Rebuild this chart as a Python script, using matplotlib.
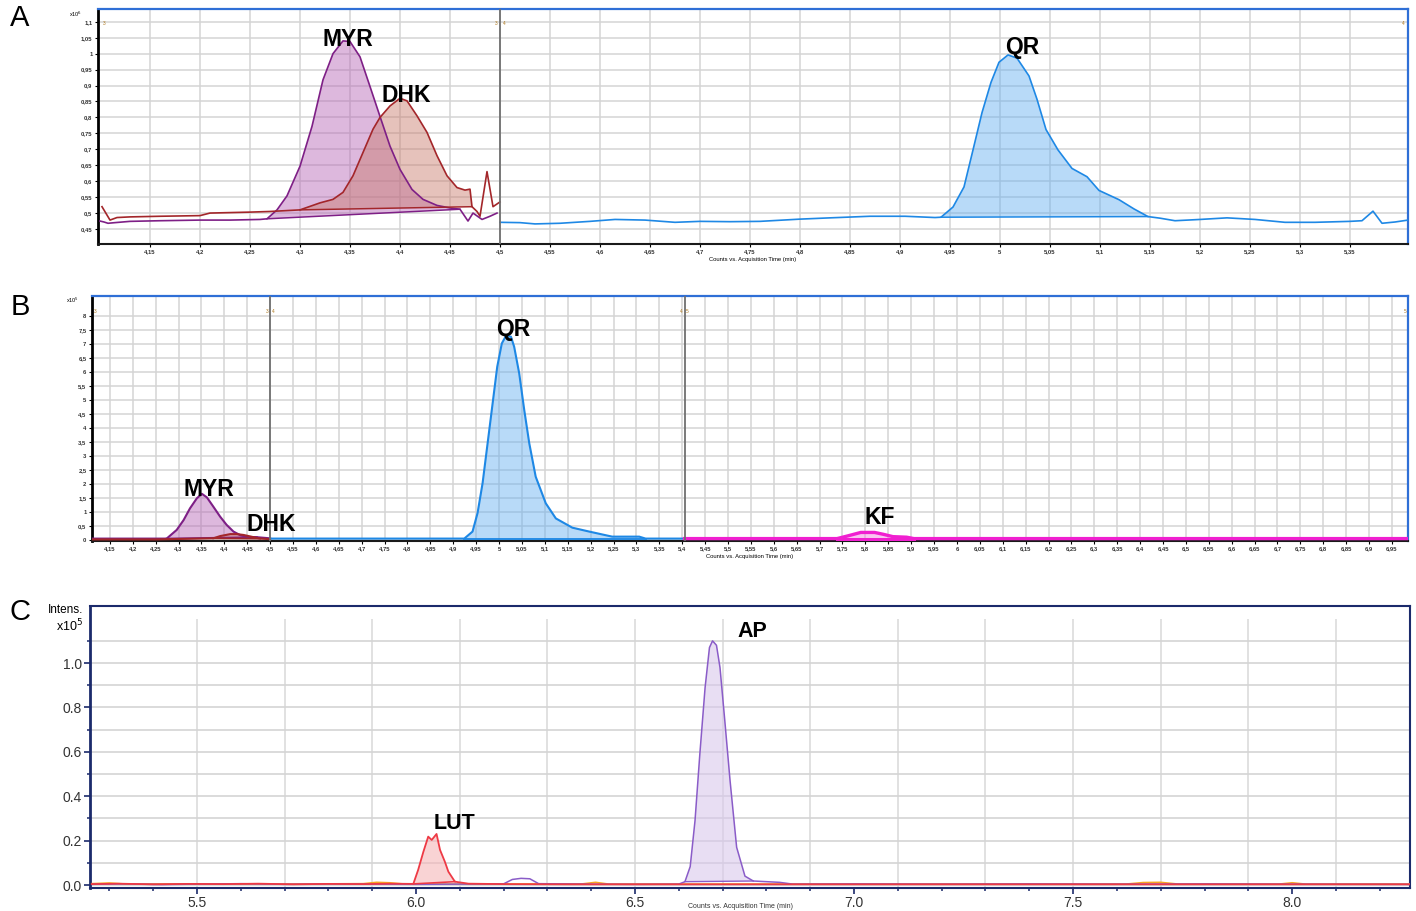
import numpy as np
import matplotlib
matplotlib.use('Agg')
import matplotlib.pyplot as plt
from matplotlib.ticker import FixedLocator, FuncFormatter

plt.rcParams['font.family'] = ['Liberation Sans', 'DejaVu Sans']

# ---------------- panel A (MRM, 4.1 - 5.4 min) ----------------
myr_a_t = [4.100, 4.104, 4.108, 4.115, 4.130, 4.160, 4.200, 4.230, 4.260, 4.267, 4.277, 4.287,
           4.300, 4.312, 4.323, 4.333, 4.343, 4.350, 4.360, 4.370, 4.380, 4.390, 4.400, 4.412,
           4.423, 4.437, 4.450, 4.460, 4.468, 4.473, 4.482, 4.490, 4.497]
myr_a_y = [0.475, 0.472, 0.468, 0.470, 0.474, 0.476, 0.478, 0.478, 0.480, 0.482, 0.510, 0.554,
           0.647, 0.772, 0.918, 1.000, 1.040, 1.038, 0.990, 0.897, 0.803, 0.710, 0.637, 0.574,
           0.543, 0.524, 0.516, 0.512, 0.475, 0.500, 0.480, 0.490, 0.500]
myr_a_peak = (4.267, 4.460)

dhk_a_t = [4.102, 4.110, 4.117, 4.130, 4.160, 4.200, 4.210, 4.250, 4.270, 4.300, 4.320, 4.333,
           4.343, 4.353, 4.363, 4.373, 4.380, 4.390, 4.400, 4.407, 4.417, 4.427, 4.437, 4.447,
           4.457, 4.465, 4.470, 4.472, 4.477, 4.480, 4.487, 4.493, 4.500]
dhk_a_y = [0.520, 0.478, 0.486, 0.488, 0.490, 0.492, 0.500, 0.503, 0.505, 0.510, 0.532, 0.543,
           0.565, 0.617, 0.690, 0.763, 0.800, 0.836, 0.860, 0.852, 0.805, 0.753, 0.680, 0.617,
           0.580, 0.572, 0.575, 0.520, 0.505, 0.490, 0.630, 0.520, 0.535]
dhk_a_peak = (4.300, 4.472)

qr_a_t = [4.500, 4.520, 4.535, 4.560, 4.590, 4.615, 4.645, 4.675, 4.700, 4.730, 4.760, 4.800,
          4.830, 4.870, 4.905, 4.935, 4.941, 4.953, 4.964, 4.973, 4.982, 4.991, 4.999, 5.008,
          5.017, 5.029, 5.037, 5.046, 5.058, 5.072, 5.087, 5.099, 5.119, 5.134, 5.148, 5.160,
          5.175, 5.200, 5.227, 5.255, 5.285, 5.315, 5.350, 5.362, 5.373, 5.382, 5.395, 5.408]
qr_a_y = [0.471, 0.470, 0.466, 0.468, 0.474, 0.480, 0.478, 0.471, 0.474, 0.473, 0.474, 0.481,
          0.485, 0.490, 0.490, 0.486, 0.487, 0.519, 0.582, 0.698, 0.815, 0.910, 0.973, 0.996,
          0.986, 0.930, 0.857, 0.762, 0.698, 0.640, 0.614, 0.571, 0.542, 0.513, 0.489, 0.484,
          0.476, 0.480, 0.485, 0.480, 0.471, 0.471, 0.474, 0.476, 0.506, 0.468, 0.472, 0.478]
qr_a_peak = (4.941, 5.148)

# ---------------- panel B (MRM, 4.1 - 7.0 min) ----------------
myr_b_t = [4.111, 4.200, 4.274, 4.296, 4.311, 4.325, 4.340, 4.351, 4.362, 4.376, 4.391, 4.405,
           4.420, 4.435, 4.449, 4.471, 4.500]
myr_b_y = [0.05, 0.05, 0.05, 0.36, 0.71, 1.13, 1.49, 1.65, 1.52, 1.19, 0.83, 0.54,
           0.30, 0.17, 0.11, 0.10, 0.06]
myr_b_peak = (4.274, 4.471)

dhk_b_t = [4.111, 4.250, 4.376, 4.391, 4.413, 4.427, 4.442, 4.464, 4.478, 4.500]
dhk_b_y = [0.02, 0.02, 0.06, 0.14, 0.21, 0.21, 0.18, 0.10, 0.05, 0.03]
dhk_b_peak = (4.376, 4.478)

qr_b_t = [4.500, 4.700, 4.924, 4.942, 4.953, 4.964, 4.974, 4.985, 4.996, 5.006, 5.015, 5.026,
          5.033, 5.044, 5.055, 5.066, 5.080, 5.102, 5.124, 5.160, 5.197, 5.247, 5.306, 5.320, 5.405]
qr_b_y = [0.05, 0.05, 0.05, 0.30, 0.96, 2.03, 3.33, 4.76, 6.19, 7.02, 7.29, 7.26,
          6.90, 5.95, 4.64, 3.45, 2.26, 1.31, 0.77, 0.44, 0.30, 0.12, 0.12, 0.05, 0.05]
qr_b_peak = (4.924, 5.320)

kf_b_t = [5.405, 5.600, 5.738, 5.760, 5.790, 5.820, 5.840, 5.860, 5.890, 5.906, 6.200, 6.985]
kf_b_y = [0.05, 0.05, 0.05, 0.14, 0.27, 0.27, 0.20, 0.12, 0.10, 0.05, 0.05, 0.05]
kf_b_peak = (5.738, 5.906)

# ---------------- panel C (EIC, 5.3 - 8.3 min) ----------------
lut_t = [5.26, 5.32, 5.40, 5.48, 5.56, 5.64, 5.72, 5.80, 5.88, 5.94, 5.994, 6.005, 6.017, 6.028,
         6.036, 6.047, 6.055, 6.066, 6.074, 6.089, 6.12, 6.20, 6.35, 6.60, 6.90, 7.20, 7.50,
         7.80, 8.10, 8.27]
lut_y = [0.004, 0.006, 0.003, 0.005, 0.004, 0.006, 0.003, 0.005, 0.004, 0.006, 0.005, 0.068,
         0.150, 0.218, 0.203, 0.230, 0.158, 0.105, 0.060, 0.015, 0.006, 0.004, 0.003, 0.003,
         0.003, 0.003, 0.003, 0.003, 0.003, 0.003]
lut_peak = (5.994, 6.089)

ap_t = [5.26, 5.34, 5.42, 5.50, 5.60, 5.70, 5.80, 5.90, 6.00, 6.10, 6.20, 6.22, 6.24, 6.26,
        6.28, 6.40, 6.50, 6.60, 6.614, 6.626, 6.637, 6.648, 6.660, 6.670, 6.677, 6.686, 6.694,
        6.705, 6.717, 6.732, 6.751, 6.770, 6.800, 6.830, 6.860, 7.00, 7.20, 7.40, 7.60, 7.80,
        8.00, 8.27]
ap_y = [0.003, 0.005, 0.002, 0.004, 0.006, 0.003, 0.005, 0.004, 0.003, 0.004, 0.005, 0.025,
        0.030, 0.028, 0.006, 0.004, 0.003, 0.004, 0.015, 0.083, 0.290, 0.590, 0.890, 1.070,
        1.100, 1.080, 0.980, 0.740, 0.470, 0.170, 0.040, 0.018, 0.015, 0.012, 0.004, 0.005,
        0.004, 0.005, 0.004, 0.005, 0.004, 0.003]
ap_peak = (6.614, 6.770)

other_t = [5.26, 5.30, 5.34, 5.50, 5.70, 5.88, 5.91, 5.94, 5.97, 6.10, 6.38, 6.41, 6.44, 6.60,
           7.00, 7.62, 7.66, 7.70, 7.74, 7.97, 8.00, 8.03, 8.27]
other_y = [0.006, 0.009, 0.004, 0.005, 0.004, 0.006, 0.012, 0.010, 0.005, 0.004, 0.005, 0.012,
           0.004, 0.004, 0.004, 0.004, 0.011, 0.012, 0.004, 0.004, 0.010, 0.004, 0.004]

W, H = 1416, 911
fig = plt.figure(figsize=(W / 100, H / 100), dpi=100)


def px_axes(left, top, right, bottom):
    return fig.add_axes([left / W, 1 - bottom / H, (right - left) / W, (bottom - top) / H])


def comma(v, pos=None):
    s = ('%.2f' % v).rstrip('0').rstrip('.')
    return s.replace('.', ',')


def draw_peak(ax, t, y, peak, line_color, fill_color, alpha, lw=1.2):
    t = np.asarray(t)
    y = np.asarray(y)
    ax.plot(t, y, color=line_color, lw=lw, zorder=3)
    m = (t >= peak[0]) & (t <= peak[1])
    ax.fill(t[m], y[m], color=fill_color, alpha=alpha, lw=0, zorder=2)
    ax.plot(t[m][[0, -1]], y[m][[0, -1]], color=line_color, lw=lw * 0.9, zorder=3)


def style_mrm(ax):
    for side in ['top', 'right']:
        ax.spines[side].set_color('#2F6FD6')
        ax.spines[side].set_linewidth(1.6)
    ax.spines['left'].set_color('black')
    ax.spines['left'].set_linewidth(2)
    ax.spines['bottom'].set_color('#1a1a1a')
    ax.spines['bottom'].set_linewidth(1.5)
    ax.grid(True, color='#D4D4D4', lw=1.1, zorder=0)
    ax.set_axisbelow(True)
    ax.tick_params(labelsize=4.2, length=2.5, width=0.8, pad=1.5, colors='black',
                   labelcolor='#333333')
    ax.xaxis.set_major_formatter(FuncFormatter(comma))
    ax.yaxis.set_major_formatter(FuncFormatter(comma))
    for lab in ax.get_xticklabels() + ax.get_yticklabels():
        lab.set_fontweight('bold')
    ax.set_xlabel('Counts vs. Acquisition Time (min)', fontsize=4.2, labelpad=1.5)


seg_col = '#B07A20'
lab_kw = dict(fontsize=16.5, fontweight='bold', ha='center', va='center', zorder=5)

# ---- A ----
axA = px_axes(98, 9, 1408, 244)
axA.set_xlim(4.098, 5.408)
axA.set_ylim(0.403, 1.14)
axA.set_xticks(np.round(np.arange(4.15, 5.36, 0.05), 2))
axA.set_yticks(np.round(np.arange(0.45, 1.101, 0.05), 2))
style_mrm(axA)
axA.axvline(4.5, color='#707070', lw=1.3, zorder=4)
draw_peak(axA, myr_a_t, myr_a_y, myr_a_peak, '#7E1F86', '#B463B4', 0.45)
draw_peak(axA, dhk_a_t, dhk_a_y, dhk_a_peak, '#A3262A', '#C8786A', 0.45)
draw_peak(axA, qr_a_t, qr_a_y, qr_a_peak, '#1E88E5', '#62AEF0', 0.45)
axA.text(4.348, 1.045, 'MYR', **lab_kw)
axA.text(4.406, 0.868, 'DHK', **lab_kw)
axA.text(5.022, 1.018, 'QR', **lab_kw)
tr = axA.get_xaxis_transform()
for x, s, ha in [(4.103, '3', 'left'), (4.497, '3', 'right'), (4.503, '4', 'left'), (5.405, '4', 'right')]:
    axA.text(x, 0.94, s, transform=tr, fontsize=3.5, color=seg_col, ha=ha, va='center')
fig.text(76 / W, 1 - 14 / H, 'x10$^{6}$', fontsize=4, ha='center', va='center')

# ---- B ----
axB = px_axes(92, 296, 1408, 541)
axB.set_xlim(4.111, 6.985)
axB.set_ylim(-0.036, 8.714)
axB.set_xticks(np.round(np.arange(4.15, 6.96, 0.05), 2))
axB.set_yticks(np.arange(0, 8.01, 0.5))
style_mrm(axB)
axB.axvline(4.5, color='#707070', lw=1.3, zorder=4)
axB.axvline(5.405, color='#707070', lw=1.3, zorder=4)
draw_peak(axB, myr_b_t, myr_b_y, myr_b_peak, '#7E1F86', '#B463B4', 0.45, lw=1.5)
draw_peak(axB, dhk_b_t, dhk_b_y, dhk_b_peak, '#A3262A', '#C8786A', 0.45, lw=1.5)
draw_peak(axB, qr_b_t, qr_b_y, qr_b_peak, '#1E88E5', '#62AEF0', 0.45, lw=1.5)
draw_peak(axB, kf_b_t, kf_b_y, kf_b_peak, '#F020D0', '#F47FE0', 0.45, lw=2.4)
axB.text(4.367, 1.79, 'MYR', **lab_kw)
axB.text(4.502, 0.57, 'DHK', **lab_kw)
axB.text(5.031, 7.5, 'QR', **lab_kw)
axB.text(5.832, 0.82, 'KF', **lab_kw)
tr = axB.get_xaxis_transform()
for x, s, ha in [(4.114, '3', 'left'), (4.497, '3', 'right'), (4.503, '4', 'left'),
                 (5.402, '4', 'right'), (5.408, '5', 'left'), (6.982, '5', 'right')]:
    axB.text(x, 0.935, s, transform=tr, fontsize=3.5, color=seg_col, ha=ha, va='center')
fig.text(72 / W, 1 - 300 / H, 'x10$^{5}$', fontsize=4, ha='center', va='center')

# ---- C ----
navy = '#1B2A6B'
axC = px_axes(90, 606, 1410, 888)
axC.set_xlim(5.256, 8.269)
axC.set_ylim(-0.0135, 1.257)
for side in axC.spines:
    axC.spines[side].set_color(navy)
    axC.spines[side].set_linewidth(1.5)
axC.spines['left'].set_linewidth(2)
axC.xaxis.set_major_locator(FixedLocator([5.5, 6.0, 6.5, 7.0, 7.5, 8.0]))
axC.xaxis.set_minor_locator(FixedLocator(np.round(np.arange(5.3, 8.25, 0.1), 1)))
axC.yaxis.set_major_locator(FixedLocator([0.0, 0.2, 0.4, 0.6, 0.8, 1.0]))
axC.yaxis.set_minor_locator(FixedLocator([0.1, 0.3, 0.5, 0.7, 0.9, 1.1]))
axC.xaxis.set_major_formatter(FuncFormatter(lambda v, p: '%.1f' % v))
axC.yaxis.set_major_formatter(FuncFormatter(lambda v, p: '%.1f' % v))
axC.tick_params(which='major', labelsize=10, length=4, width=1.2, colors=navy,
                labelcolor='#333333', pad=2)
axC.tick_params(which='minor', length=2.5, width=1.1, colors=navy)
axC.grid(True, axis='y', which='both', color='#D4D4D4', lw=1.2, zorder=0)
axC.vlines(np.round(np.arange(5.5, 8.2, 0.2), 1), -0.0135, 1.2, color='#D8D8D8', lw=1.1, zorder=0)
axC.set_axisbelow(True)
axC.plot(other_t, other_y, color='#F5A623', lw=1.2, zorder=3)
draw_peak(axC, ap_t, ap_y, ap_peak, '#8A5CC8', '#D9C8EC', 0.6, lw=1.1)
draw_peak(axC, lut_t, lut_y, lut_peak, '#EE3A45', '#F6B6B8', 0.6, lw=1.3)
axC.text(6.089, 0.279, 'LUT', fontsize=15.5, fontweight='bold', ha='center', va='center')
axC.text(6.767, 1.144, 'AP', fontsize=15.5, fontweight='bold', ha='center', va='center')
axC.text(0.493, -0.064, 'Counts vs. Acquisition Time (min)', transform=axC.transAxes,
         fontsize=5, ha='center', va='center', color='#333333')
fig.text(66 / W, 1 - 610 / H, 'Intens.', fontsize=8.5, ha='center', va='center')
fig.text(70 / W, 1 - 626 / H, 'x10$^5$', fontsize=9, ha='center', va='center')

# panel letters
for y, s in [(18, 'A'), (307, 'B'), (612, 'C')]:
    fig.text(20 / W, 1 - y / H, s, fontsize=21, ha='center', va='center')

fig.savefig('out.png', dpi=100)
